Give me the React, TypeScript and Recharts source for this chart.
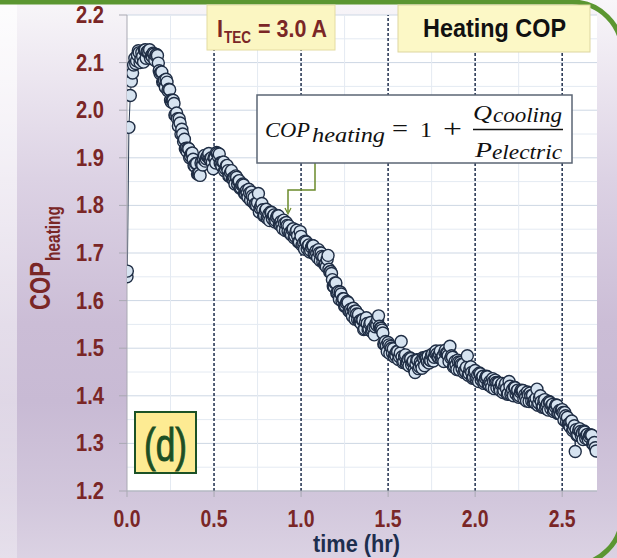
import { ComposedChart, Line, XAxis, YAxis, CartesianGrid, ReferenceLine } from 'recharts'

// first samples while the TEC switches on
const rampTime = [0, 0.002, 0.011, 0.019, 0.025, 0.032, 0.038]
const rampCop = [1.65, 1.662, 1.964, 2.031, 2.061, 2.078, 2.095]

// logged COP_heating, one sample every 0.01 hr starting at 0.045 hr
const START_HR = 0.045
const STEP_HR = 0.01
const copHeating = [
  2.109, 2.104, 2.125, 2.1, 2.121, 2.101, 2.127, 2.123, 2.12, 2.109,
  2.113, 2.118, 2.115, 2.115, 2.083, 2.08, 2.059, 2.063, 2.065, 2.041,
  2.043, 2.017, 2.021, 1.99, 1.994, 1.967, 1.973, 1.96, 1.934, 1.919,
  1.913, 1.919, 1.903, 1.91, 1.884, 1.888, 1.866, 1.868, 1.889, 1.885,
  1.905, 1.898, 1.904, 1.897, 1.9, 1.877, 1.899, 1.911, 1.902, 1.889,
  1.882, 1.891, 1.877, 1.884, 1.862, 1.869, 1.856, 1.859, 1.862, 1.845,
  1.852, 1.837, 1.845, 1.825, 1.831, 1.817, 1.826, 1.828, 1.807, 1.802,
  1.799, 1.825, 1.794, 1.804, 1.778, 1.789, 1.773, 1.782, 1.786, 1.772,
  1.78, 1.768, 1.779, 1.76, 1.766, 1.751, 1.762, 1.764, 1.746, 1.742,
  1.738, 1.751, 1.735, 1.748, 1.723, 1.745, 1.716, 1.722, 1.725, 1.709,
  1.717, 1.705, 1.716, 1.698, 1.704, 1.69, 1.7, 1.7, 1.681, 1.676,
  1.671, 1.695, 1.66, 1.657, 1.63, 1.637, 1.616, 1.619, 1.618, 1.599,
  1.604, 1.589, 1.598, 1.578, 1.582, 1.567, 1.577, 1.578, 1.56, 1.556,
  1.552, 1.56, 1.541, 1.564, 1.539, 1.551, 1.535, 1.543, 1.545, 1.548,
  1.568, 1.542, 1.538, 1.509, 1.514, 1.493, 1.507, 1.504, 1.49, 1.482,
  1.484, 1.493, 1.482, 1.514, 1.47, 1.483, 1.468, 1.477, 1.48, 1.465,
  1.473, 1.449, 1.476, 1.457, 1.471, 1.458, 1.478, 1.481, 1.472, 1.469,
  1.474, 1.488, 1.481, 1.494, 1.482, 1.488, 1.478, 1.484, 1.492, 1.49,
  1.484, 1.504, 1.484, 1.461, 1.472, 1.455, 1.471, 1.47, 1.457, 1.449,
  1.45, 1.484, 1.447, 1.461, 1.437, 1.45, 1.435, 1.444, 1.448, 1.433,
  1.441, 1.429, 1.441, 1.423, 1.43, 1.418, 1.43, 1.433, 1.417, 1.427,
  1.411, 1.426, 1.411, 1.426, 1.403, 1.43, 1.403, 1.413, 1.418, 1.404,
  1.412, 1.4, 1.412, 1.411, 1.402, 1.389, 1.402, 1.406, 1.389, 1.387,
  1.385, 1.414, 1.385, 1.4, 1.376, 1.389, 1.374, 1.384, 1.388, 1.373,
  1.382, 1.37, 1.381, 1.363, 1.369, 1.37, 1.365, 1.365, 1.345, 1.34,
  1.335, 1.347, 1.33, 1.283, 1.317, 1.328, 1.325, 1.322, 1.326, 1.311,
  1.319, 1.314, 1.318, 1.299, 1.302, 1.284,
]

// samples logged in between, starting at 0.05 hr
const MID_START_HR = 0.05
const copHeatingMid = [
  2.098, 2.116, 2.121, 2.107, 2.113, 2.126, 2.109, 2.124, 2.127, 2.115,
  2.12, 2.105, 2.117, 2.099, 2.077, 2.08, 2.06, 2.048, 2.059, 2.044,
  2.021, 2.021, 2.014, 1.989, 1.982, 1.982, 1.95, 1.95, 1.939, 1.92,
  1.92, 1.9, 1.909, 1.897, 1.882, 1.888, 1.866, 1.863, 1.893, 1.897,
  1.893, 1.903, 1.909, 1.895, 1.89, 1.9, 1.889, 1.909, 1.908, 1.889,
  1.891, 1.873, 1.883, 1.873, 1.861, 1.873, 1.856, 1.845, 1.859, 1.851,
  1.836, 1.843, 1.843, 1.825, 1.826, 1.834, 1.811, 1.82, 1.817, 1.804,
  1.806, 1.786, 1.799, 1.791, 1.779, 1.792, 1.776, 1.768, 1.785, 1.778,
  1.765, 1.775, 1.778, 1.76, 1.76, 1.769, 1.747, 1.758, 1.757, 1.744,
  1.749, 1.732, 1.744, 1.736, 1.723, 1.735, 1.718, 1.708, 1.723, 1.715,
  1.702, 1.712, 1.715, 1.698, 1.699, 1.707, 1.684, 1.693, 1.691, 1.677,
  1.687, 1.666, 1.661, 1.644, 1.629, 1.637, 1.616, 1.603, 1.614, 1.604,
  1.588, 1.595, 1.596, 1.577, 1.576, 1.584, 1.561, 1.572, 1.571, 1.558,
  1.56, 1.539, 1.555, 1.552, 1.541, 1.554, 1.538, 1.528, 1.552, 1.56,
  1.546, 1.542, 1.532, 1.508, 1.505, 1.512, 1.489, 1.5, 1.499, 1.487,
  1.493, 1.476, 1.49, 1.482, 1.472, 1.486, 1.471, 1.463, 1.478, 1.471,
  1.455, 1.467, 1.475, 1.461, 1.466, 1.48, 1.463, 1.479, 1.483, 1.475,
  1.485, 1.473, 1.49, 1.488, 1.481, 1.494, 1.48, 1.472, 1.496, 1.489,
  1.472, 1.48, 1.481, 1.463, 1.465, 1.475, 1.454, 1.466, 1.466, 1.453,
  1.46, 1.443, 1.456, 1.449, 1.439, 1.453, 1.438, 1.43, 1.446, 1.439,
  1.426, 1.437, 1.44, 1.423, 1.426, 1.436, 1.415, 1.428, 1.428, 1.416,
  1.423, 1.407, 1.421, 1.415, 1.405, 1.42, 1.407, 1.4, 1.417, 1.41,
  1.397, 1.408, 1.41, 1.394, 1.397, 1.408, 1.388, 1.4, 1.401, 1.39,
  1.395, 1.38, 1.395, 1.388, 1.378, 1.392, 1.378, 1.37, 1.386, 1.38,
  1.367, 1.377, 1.38, 1.363, 1.362, 1.371, 1.349, 1.358, 1.355, 1.341,
  1.345, 1.327, 1.337, 1.329, 1.318, 1.331, 1.316, 1.308, 1.324, 1.317,
  1.308, 1.318, 1.317, 1.297, 1.291,
]

const xTicks = [0, 0.5, 1, 1.5, 2, 2.5]
const yTicks = [1.2, 1.3, 1.4, 1.5, 1.6, 1.7, 1.8, 1.9, 2.0, 2.1, 2.2]
const minorX = [0.25, 0.75, 1.25, 1.75, 2.25]
const dashedX = [0.5, 1, 1.5, 2, 2.5]
const minorY = [1.25, 1.35, 1.45, 1.55, 1.65, 1.75, 1.85, 1.95, 2.05, 2.15]

const data = [
  ...rampTime.map((t, i) => ({ t, cop: rampCop[i] })),
  ...copHeating.map((cop, i) => ({ t: +(START_HR + i * STEP_HR).toFixed(3), cop })),
  ...copHeatingMid.map((cop, i) => ({ t: +(MID_START_HR + i * STEP_HR).toFixed(3), cop })),
].sort((a, b) => a.t - b.t)

const SANS = '"Liberation Sans", Arial, sans-serif'
const SERIF = '"Liberation Serif", "Times New Roman", serif'
const MAROON = '#7a2626'

const YTick = (props: any) => {
  const { x, y, payload } = props
  return (
    <text x={x} y={y} dy={8} textAnchor="end" fill={MAROON} fontSize={23} fontWeight={700}
      fontFamily={SANS} textLength={28} lengthAdjust="spacingAndGlyphs">
      {payload.value.toFixed(1)}
    </text>
  )
}

const XTick = (props: any) => {
  const { x, y, payload } = props
  return (
    <text x={x} y={y} dy={26} textAnchor="middle" fill={MAROON} fontSize={23} fontWeight={700}
      fontFamily={SANS} textLength={27} lengthAdjust="spacingAndGlyphs">
      {payload.value.toFixed(1)}
    </text>
  )
}

function Overlay() {
  return (
    <svg width={617} height={558} style={{ position: 'absolute', left: 0, top: 0, pointerEvents: 'none' }}>
      {/* slide frame */}
      <rect x={-60} y={2} width={682} height={563} rx={50} fill="none" stroke="#5b9631" strokeWidth={5} />

      {/* axis titles */}
      <g fill={MAROON} fontFamily={SANS} fontWeight={700}>
        <text transform="translate(50,310) rotate(-90)" fontSize={30} textLength={48} lengthAdjust="spacingAndGlyphs">COP</text>
        <text transform="translate(60,261) rotate(-90)" fontSize={20} textLength={55} lengthAdjust="spacingAndGlyphs">heating</text>
      </g>
      <text x={313} y={552} fill="#1d2e4e" fontFamily={SANS} fontWeight={700} fontSize={23}
        textLength={87} lengthAdjust="spacingAndGlyphs">time (hr)</text>

      {/* current label */}
      <rect x={207} y={5} width={128} height={45} fill="#fbf6c2" stroke="#e4dca2" />
      <g fill={MAROON} fontFamily={SANS} fontWeight={700}>
        <text x={217} y={37} fontSize={23} textLength={6} lengthAdjust="spacingAndGlyphs">I</text>
        <text x={224} y={43} fontSize={16} textLength={27} lengthAdjust="spacingAndGlyphs">TEC</text>
        <text x={258} y={37} fontSize={23} textLength={69} lengthAdjust="spacingAndGlyphs">= 3.0 A</text>
      </g>

      {/* title */}
      <rect x={398} y={5} width={192} height={47} fill="#fcf8c6" stroke="#ddd6a0" />
      <text x={423} y={37} fill="#111" fontFamily={SANS} fontWeight={700} fontSize={26}
        textLength={143} lengthAdjust="spacingAndGlyphs">Heating COP</text>

      {/* formula */}
      <polyline points="315,163 315,190 288,190 288,212" fill="none" stroke="#6b8a2b" strokeWidth={1.5} />
      <path d="M285,208 L288,214 L291,208" fill="none" stroke="#6b8a2b" strokeWidth={1.2} />
      <rect x={257} y={95} width={315} height={68} fill="#fff" stroke="#5b6574" strokeWidth={1.5} />
      <g fill="#111" fontFamily={SERIF}>
        <text x={265} y={137} fontSize={22} fontStyle="italic" textLength={45} lengthAdjust="spacingAndGlyphs">COP</text>
        <text x={312} y={142} fontSize={21} fontStyle="italic" textLength={73} lengthAdjust="spacingAndGlyphs">heating</text>
        <text x={392} y={137} fontSize={26} textLength={16} lengthAdjust="spacingAndGlyphs">=</text>
        <text x={420} y={137} fontSize={22} textLength={12} lengthAdjust="spacingAndGlyphs">1</text>
        <text x={443} y={137} fontSize={26} textLength={19} lengthAdjust="spacingAndGlyphs">+</text>
        <text x={473} y={120} fontSize={22} fontStyle="italic" textLength={19} lengthAdjust="spacingAndGlyphs">Q</text>
        <text x={493} y={122} fontSize={21} fontStyle="italic" textLength={69} lengthAdjust="spacingAndGlyphs">cooling</text>
        <line x1={473} y1={129.5} x2={563} y2={129.5} stroke="#111" strokeWidth={1.3} />
        <text x={475} y={157} fontSize={22} fontStyle="italic" textLength={17} lengthAdjust="spacingAndGlyphs">P</text>
        <text x={492} y={159} fontSize={21} fontStyle="italic" textLength={70} lengthAdjust="spacingAndGlyphs">electric</text>
      </g>

      {/* panel tag */}
      <rect x={135} y={412} width={61} height={61} fill="#fdeb93" stroke="#1b5226" strokeWidth={2} />
      <text x={165.5} y={461} textAnchor="middle" fill="#1d4f24" stroke="#1d4f24" strokeWidth={0.9}
        fontFamily={SANS} fontSize={46} textLength={43} lengthAdjust="spacingAndGlyphs">(d)</text>
    </svg>
  )
}

export default function App() {
  return (
    <div
      style={{
        position: 'relative',
        width: 617,
        height: 558,
        overflow: 'hidden',
        background:
          'linear-gradient(180deg, #f8f6f9 0%, #ece6f0 14%, #dcd2e4 32%, #cbbdd6 58%, #c8bad4 72%, #d2c7dc 90%, #dbd2e3 100%)',
      }}
    >
      <style>{'body{margin:0}'}</style>
      <div
        style={{
          position: 'absolute',
          left: 0,
          top: 0,
          width: 17,
          height: 558,
          background: 'linear-gradient(180deg, rgba(255,255,255,0.75), rgba(255,255,255,0.3))',
        }}
      />
      <div style={{ position: 'absolute', left: 0, top: 0 }}>
        <ComposedChart width={617} height={558} data={data} margin={{ top: 15, right: 20, bottom: 0, left: 0 }}>
          <CartesianGrid vertical={false} stroke="#cdd7e4" fill="#ffffff" />
          {minorY.map((v) => (
            <ReferenceLine key={'my' + v} y={v} stroke="#e4eaf2" strokeWidth={1} />
          ))}
          {minorX.map((v) => (
            <ReferenceLine key={'mx' + v} x={v} stroke="#e4eaf2" strokeWidth={1} />
          ))}
          {dashedX.map((v) => (
            <ReferenceLine key={'dx' + v} x={v} stroke="#2d3b57" strokeWidth={1.6} strokeDasharray="3 2" />
          ))}
          <XAxis
            dataKey="t"
            type="number"
            domain={[0, 2.7]}
            ticks={xTicks}
            height={67}
            tickSize={6}
            tickMargin={4}
            axisLine={{ stroke: '#a9a9b3' }}
            tickLine={{ stroke: '#a9a9b3' }}
            tick={<XTick />}
            allowDataOverflow
          />
          <YAxis
            type="number"
            domain={[1.2, 2.2]}
            ticks={yTicks}
            width={127}
            tickSize={8}
            tickMargin={15}
            axisLine={{ stroke: '#a9a9b3' }}
            tickLine={{ stroke: '#a9a9b3' }}
            tick={<YTick />}
            allowDataOverflow
          />
          <Line
            dataKey="cop"
            type="linear"
            stroke="#2c3b52"
            strokeWidth={1}
            dot={{ r: 6, fill: '#d6e3f0', stroke: '#1f2d44', strokeWidth: 1.4 }}
            isAnimationActive={false}
          />
        </ComposedChart>
      </div>
      <Overlay />
    </div>
  )
}
